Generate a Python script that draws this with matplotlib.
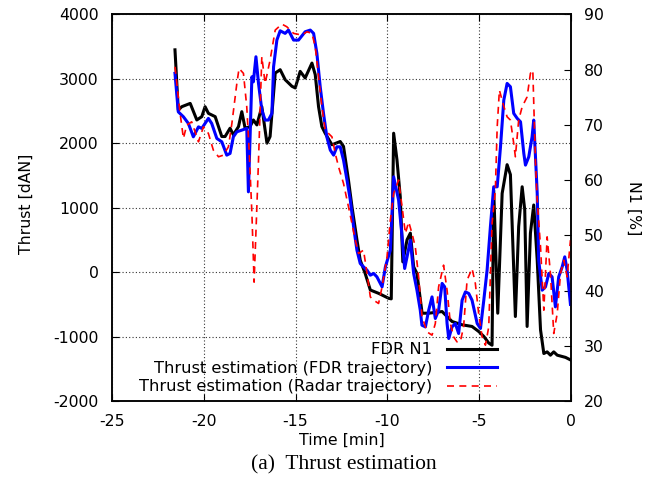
import matplotlib
matplotlib.use("Agg")
import matplotlib.pyplot as plt

# FDR N1 [%] (right axis)
n1_time = [-21.57, -21.39, -21.20, -20.74, -20.38, -20.11, -19.93, -19.75, -19.38, -19.02,
           -18.84, -18.57, -18.39, -18.11, -17.93, -17.75, -17.48, -17.30, -17.11, -16.84,
           -16.56, -16.39, -16.11, -15.84, -15.57, -15.20, -15.02, -14.75, -14.48, -14.11,
           -13.93, -13.75, -13.57, -13.39, -13.02, -12.57, -12.39, -12.12, -11.93, -11.66,
           -11.48, -11.21, -10.93, -10.48, -9.93, -9.79, -9.66, -9.48, -9.30, -9.16,
           -8.93, -8.75, -8.57, -8.39, -8.11, -7.75, -7.02, -6.75, -6.48, -5.93,
           -5.39, -5.03, -4.75, -4.48, -4.30, -4.21, -3.99, -3.75, -3.48, -3.30,
           -3.03, -2.85, -2.66, -2.52, -2.39, -2.21, -2.03, -1.84, -1.66, -1.48,
           -1.30, -1.12, -0.94, -0.75, -0.30, 0.0]
n1_vals = [83.6, 72.7, 73.3, 73.9, 70.9, 71.5, 73.3, 72.1, 71.5, 67.9,
           67.9, 69.4, 68.2, 69.7, 72.4, 69.4, 69.7, 70.9, 70.0, 73.3,
           66.7, 67.9, 79.4, 80.0, 78.2, 77.0, 76.7, 79.7, 78.5, 81.2,
           79.1, 73.3, 69.7, 68.5, 66.4, 67.0, 66.1, 60.0, 55.2, 49.2,
           45.5, 43.1, 40.1, 39.5, 38.6, 38.5, 68.5, 63.7, 57.0, 45.2,
           49.2, 50.4, 44.3, 43.1, 35.9, 35.9, 36.2, 35.3, 34.4, 33.8,
           33.5, 32.6, 31.7, 30.5, 30.1, 58.2, 35.9, 57.6, 62.8, 61.0,
           35.3, 51.6, 58.8, 54.6, 33.5, 50.4, 55.5, 45.5, 32.9, 28.6,
           28.9, 28.3, 28.9, 28.3, 27.9, 27.4]

# Thrust estimation (FDR trajectory) [dAN]
fdr_time = [-21.57, -21.39, -21.11, -20.84, -20.57, -20.29, -20.11, -19.75, -19.57, -19.29,
            -19.02, -18.75, -18.57, -18.39, -18.20, -17.93, -17.66, -17.57, -17.38, -17.30,
            -17.16, -17.02, -16.84, -16.66, -16.48, -16.29, -16.20, -16.02, -15.84, -15.57,
            -15.39, -15.11, -14.84, -14.48, -14.20, -14.02, -13.84, -13.66, -13.48, -13.30,
            -13.11, -12.93, -12.75, -12.57, -12.39, -12.20, -12.02, -11.84, -11.66, -11.48,
            -11.30, -11.11, -10.93, -10.75, -10.57, -10.29, -10.11, -9.84, -9.66, -9.39,
            -9.20, -9.06, -8.93, -8.75, -8.57, -8.39, -8.21, -8.12, -7.93, -7.75,
            -7.57, -7.39, -7.21, -7.02, -6.88, -6.75, -6.66, -6.48, -6.30, -6.12,
            -5.93, -5.75, -5.57, -5.39, -5.11, -4.93, -4.75, -4.57, -4.39, -4.21,
            -4.02, -3.84, -3.66, -3.48, -3.30, -3.12, -2.93, -2.75, -2.57, -2.48,
            -2.30, -2.12, -2.03, -1.84, -1.76, -1.57, -1.39, -1.21, -1.03, -0.85,
            -0.67, -0.48, -0.34, -0.21, -0.03]
fdr_vals = [3086, 2489, 2412, 2309, 2101, 2256, 2232, 2387, 2309, 2076,
            2024, 1817, 1843, 2101, 2179, 2205, 2232, 1247, 3033, 2955,
            3344, 2930, 2516, 2361, 2361, 2465, 3188, 3603, 3747, 3707,
            3758, 3603, 3603, 3732, 3758, 3707, 3396, 2878, 2465, 2101,
            1895, 1817, 1946, 1946, 1739, 1429, 1118, 704, 342, 135,
            83, 31, -47, -20, -73, -228, 82, 342, 1480, 1118,
            548, 57, 238, 497, -20, -280, -590, -823, -850, -590,
            -384, -719, -590, -175, -228, -797, -1030, -849, -797, -952,
            -435, -306, -331, -435, -797, -874, -435, 31, 704, 1325,
            1325, 1946, 2671, 2930, 2878, 2465, 2387, 2334, 1843, 1662,
            1791, 2101, 2361, 1222, 186, -280, -228, -20, -73, -539,
            -73, 82, 238, 31, -500]

# Thrust estimation (Radar trajectory) [dAN]
radar_time = [-21.57, -21.29, -21.11, -20.93, -20.66, -20.29, -20.02, -19.75, -19.48, -19.20,
              -18.93, -18.66, -18.47, -18.20, -18.08, -17.84, -17.66, -17.53, -17.38, -17.26,
              -17.11, -17.02, -16.84, -16.66, -16.39, -16.11, -15.75, -15.48, -15.11, -14.66,
              -14.38, -14.11, -13.93, -13.75, -13.57, -13.39, -13.21, -13.02, -12.84, -12.66,
              -12.39, -12.12, -11.93, -11.75, -11.57, -11.30, -11.11, -10.93, -10.75, -10.48,
              -10.29, -10.02, -9.84, -9.66, -9.39, -9.20, -9.02, -8.84, -8.66, -8.48,
              -8.30, -8.11, -7.84, -7.57, -7.39, -7.21, -6.94, -6.75, -6.57, -6.39,
              -6.21, -6.03, -5.85, -5.66, -5.39, -5.21, -5.03, -4.84, -4.66, -4.48,
              -4.30, -4.12, -4.02, -3.90, -3.68, -3.48, -3.30, -3.12, -3.03, -2.85,
              -2.66, -2.39, -2.21, -2.08, -1.94, -1.84, -1.66, -1.48, -1.30, -1.12,
              -0.94, -0.75, -0.57, -0.39, -0.21, -0.03]
radar_vals = [3188, 2465, 2076, 2283, 2334, 2024, 2256, 2154, 1895, 1791,
              1817, 1946, 2309, 2930, 3163, 3086, 2567, 1895, 912, -155,
              1014, 1739, 3344, 2930, 3292, 3758, 3851, 3810, 3707, 3681,
              3732, 3707, 3499, 3033, 2567, 2205, 2154, 2101, 1843, 1635,
              1377, 1014, 756, 497, 290, 342, -20, -384, -435, -486,
              -228, 238, 808, 1222, 1429, 1014, 601, 781, 601, 393,
              -73, -694, -927, -978, -797, -228, 109, -280, -797, -1005,
              -1082, -1082, -849, -124, 57, -175, -641, -1005, -1134, -849,
              756, 1274, 2256, 2826, 2593, 2412, 2361, 1999, 1791, 2361,
              2567, 2722, 3086, 3137, 1739, 1118, 393, -590, 548, -20,
              -952, -641, -20, 186, -73, 497]

x_ticks = [-25, -20, -15, -10, -5, 0]
y_ticks = [-2000, -1000, 0, 1000, 2000, 3000, 4000]
y2_ticks = [20, 30, 40, 50, 60, 70, 80, 90]

plt.rcParams["font.family"] = ["DejaVu Sans"]
plt.rcParams["axes.unicode_minus"] = False
fs = 11.3

fig = plt.figure(figsize=(6.65, 4.83), dpi=100)
ax = fig.add_axes([112 / 665, 1 - 401 / 483, 459 / 665, 386.5 / 483])
ax2 = ax.twinx()
ax.set_zorder(ax2.get_zorder() + 1)
ax.patch.set_visible(False)

l1, = ax2.plot(n1_time, n1_vals, color="black", lw=2.2, label="FDR N1")
l2, = ax.plot(fdr_time, fdr_vals, color="#0000ff", lw=2.2, label="Thrust estimation (FDR trajectory)")
l3, = ax.plot(radar_time, radar_vals, color="#ff0000", lw=1.2, dashes=(4.2, 3.2),
              label="Thrust estimation (Radar trajectory)")

ax.set_xlim(-25, 0)
ax.set_ylim(-2000, 4000)
ax2.set_ylim(20, 90)
ax.set_xticks(x_ticks)
ax.set_yticks(y_ticks)
ax2.set_yticks(y2_ticks)

ax.grid(True, color="#333333", linestyle=(0, (1, 2)), linewidth=0.8)
ax.tick_params(axis="both", direction="in", length=5, width=0.8, labelsize=fs,
               top=True, right=False, pad=9.5)
ax2.tick_params(axis="y", direction="in", length=5, width=0.8, labelsize=fs, pad=9.5)

for a in (ax, ax2):
    for s in a.spines.values():
        s.set_linewidth(1.1)

ax.set_xlabel("Time [min]", fontsize=fs, va="center")
ax.xaxis.set_label_coords(0.5, (401 - 440) / 386.5)
ax.set_ylabel("Thrust [dAN]", fontsize=fs, va="center")
ax.yaxis.set_label_coords((26 - 112) / 459, 0.51)
ax2.set_ylabel("N1 [%]", fontsize=fs, rotation=270, va="center", ha="center",
               rotation_mode="anchor")
ax2.yaxis.set_label_coords((634 - 112) / 459, 0.5)

leg = ax.legend(handles=[l1, l2, l3], loc="lower right", bbox_to_anchor=(0.839, 0.017),
                frameon=False, markerfirst=False, fontsize=11.7, handlelength=3.07,
                handletextpad=0.92, labelspacing=0.22, borderpad=0.0, borderaxespad=0)

fig.text(343.5 / 665, 1 - 465 / 483, "(a)  Thrust estimation", ha="center", va="center",
         fontsize=15.5, family=["Liberation Serif", "DejaVu Serif"])

fig.savefig("out.png", dpi=100)
